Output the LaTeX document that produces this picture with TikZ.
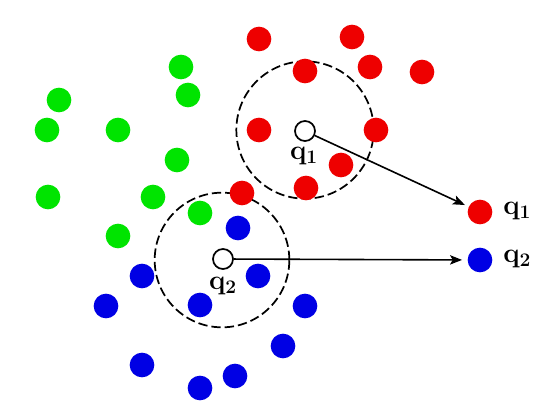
\documentclass[tikz,border=0pt]{standalone}
\usetikzlibrary{arrows.meta}
\definecolor{dotred}{RGB}{238,0,0}
\definecolor{dotgreen}{RGB}{0,228,0}
\definecolor{dotblue}{RGB}{0,0,228}
\begin{document}
\begin{tikzpicture}[x=0.75pt,y=-0.75pt,
  dot/.style={circle,inner sep=0pt,minimum size=18.5pt},
  rdot/.style={dot,fill=dotred},
  gdot/.style={dot,fill=dotgreen},
  bdot/.style={dot,fill=dotblue},
  query/.style={circle,draw=black,line width=1.3pt,fill=white,inner sep=0pt,minimum size=15pt},
  region/.style={draw=black,line width=1.3pt,dash pattern=on 7pt off 3pt},
  qlabel/.style={inner sep=0pt,font=\fontsize{22}{26}\selectfont},
  link/.style={draw=black,line width=1.2pt,-{Stealth[length=9pt,width=7pt,inset=2pt]}}]
\useasboundingbox (0,0) rectangle (546,406);
% neighbourhood circles
\coordinate (c1) at (305,130);
\coordinate (c2) at (222,260);
\draw[region] (c1) circle[radius=51.5pt];
\draw[region] (c2) circle[radius=50.5pt];
% red points
\foreach \n/\x/\y in {r1/259/39, r2/352/37, r3/305/71, r4/370/67, r5/422/72,
  r6/259/130, r7/376/130, r8/341/165, r9/306/188, r10/242/193}
  \node[rdot] (\n) at (\x,\y) {};
% green points
\foreach \n/\x/\y in {g1/181/67, g2/188/95, g3/59/100, g4/47/130, g5/118/130,
  g6/177/160, g7/48/197, g8/153/197, g9/200/213, g10/118/236}
  \node[gdot] (\n) at (\x,\y) {};
% blue points
\foreach \n/\x/\y in {b1/238/228, b2/142/276, b3/258/276, b4/106/306, b5/200/305,
  b6/305/306, b7/283/346, b8/142/365, b9/200/388, b10/235/376}
  \node[bdot] (\n) at (\x,\y) {};
% query points
\node[query] (q1) at (305,131) {};
\node[query] (q2) at (223,259) {};
\node[qlabel] (q1l) at (304,156) {$\mathbf{q}_{\mathbf{1}}$};
\node[qlabel] (q2l) at (223,286) {$\mathbf{q}_{\mathbf{2}}$};
% classified results
\node[rdot] (o1) at (480,212) {};
\node[bdot] (o2) at (480,260) {};
\node[qlabel,anchor=west] (o1l) at (503,211) {$\mathbf{q}_{\mathbf{1}}$};
\node[qlabel,anchor=west] (o2l) at (503,259) {$\mathbf{q}_{\mathbf{2}}$};
\draw[link,shorten >=3pt] (q1) -- (o1);
\draw[link,shorten >=4pt] (q2) -- (o2);
\end{tikzpicture}
\end{document}
